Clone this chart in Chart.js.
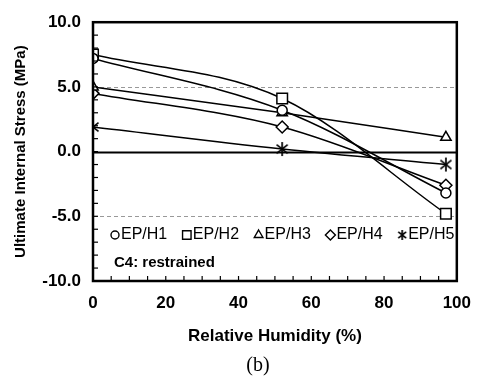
<!DOCTYPE html>
<html>
<head>
<meta charset="utf-8">
<script src="https://cdn.jsdelivr.net/npm/chart.js@4.4.0/dist/chart.umd.min.js"></script>
<style>
    html, body { margin: 0; padding: 0; background: #fff; }
</style>
</head>
<body>
<canvas id="GraficoHumedad" width="483" height="378"></canvas>
<script>
// datos
const humedad = [0, 52, 97];
const epH1 = [7.2, 3.2, -3.2];
const epH2 = [7.5, 4.1, -4.8];
const epH3 = [5.0, 3.0, 1.1];
const epH4 = [4.5, 1.9, -2.6];
const epH5 = [1.9, 0.2, -1.0];
const etiquetas = ["EP/H1", "EP/H2", "EP/H3", "EP/H4", "EP/H5"];
const ticksX = [0, 20, 40, 60, 80, 100];
const ticksY = [-10, -5, 0, 5, 10];

// asterisco de 6 brazos para EP/H5
function CrearAsterisco(r) {
    let c = document.createElement("canvas");
    c.width = r * 2 + 2;
    c.height = r * 2 + 2;
    let g = c.getContext("2d");
    g.strokeStyle = "#000";
    g.lineWidth = 1.7;
    let cx = c.width / 2, cy = c.height / 2;
    [90, 38, 142].forEach(function (ang) {
        let a = ang * Math.PI / 180;
        g.beginPath();
        g.moveTo(cx - r * Math.cos(a), cy - r * Math.sin(a));
        g.lineTo(cx + r * Math.cos(a), cy + r * Math.sin(a));
        g.stroke();
    });
    return c;
}

const estilos = ["circle", "rect", "triangle", "rectRot", CrearAsterisco(7)];
const radios = [5, 7.5, 6, 6, 7];
const estilosLeyenda = ["circle", "rect", "triangle", "rectRot", CrearAsterisco(5)];
const radiosLeyenda = [4, 6, 5, 5, 5];

function Serie(valores) {
    return valores.map(function (v, i) { return { x: humedad[i], y: v }; });
}

const series = [epH1, epH2, epH3, epH4, epH5];
const datasets = series.map(function (valores, i) {
    return {
        label: etiquetas[i],
        data: Serie(valores),
        borderColor: "#000",
        borderWidth: 1.5,
        cubicInterpolationMode: "monotone",
        pointStyle: estilos[i],
        pointRadius: radios[i],
        pointBackgroundColor: "#fff",
        pointBorderColor: "#000",
        pointBorderWidth: 1.5,
        fill: false
    };
});

// lineas de referencia, marco y ticks menores hacia adentro
const pluginMarco = {
    id: "marco",
    beforeDatasetsDraw: function (chart) {
        const ctx = chart.ctx;
        const a = chart.chartArea;
        const y = chart.scales.y;
        ctx.save();
        ticksY.forEach(function (v) {
            if (v === -10 || v === 10) return;
            let py = Math.round(y.getPixelForValue(v)) + 0.5;
            ctx.beginPath();
            if (v === 0) {
                ctx.setLineDash([]);
                ctx.strokeStyle = "#000";
                ctx.lineWidth = 2;
            } else {
                ctx.setLineDash([4, 3]);
                ctx.strokeStyle = "#999";
                ctx.lineWidth = 1;
            }
            ctx.moveTo(a.left, py);
            ctx.lineTo(a.right, py);
            ctx.stroke();
        });
        ctx.restore();
    },
    afterDraw: function (chart) {
        const ctx = chart.ctx;
        const a = chart.chartArea;
        const x = chart.scales.x;
        const y = chart.scales.y;
        ctx.save();
        ctx.strokeStyle = "#000";
        ctx.lineWidth = 1.2;
        for (let v = -10; v <= 10; v++) {
            let py = y.getPixelForValue(v);
            ctx.beginPath();
            ctx.moveTo(a.left, py);
            ctx.lineTo(a.left + 5, py);
            ctx.stroke();
        }
        for (let v = 0; v <= 100; v += 5) {
            let px = x.getPixelForValue(v);
            ctx.beginPath();
            ctx.moveTo(px, a.bottom);
            ctx.lineTo(px, a.bottom - 5);
            ctx.stroke();
        }
        ctx.lineWidth = 2.5;
        ctx.strokeRect(a.left, a.top, a.right - a.left, a.bottom - a.top);

        // leyenda dentro del area
        ctx.fillStyle = "#000";
        ctx.textBaseline = "middle";
        ctx.font = "16px 'Liberation Sans', Arial, sans-serif";
        let ly = a.bottom - 46;
        etiquetas.forEach(function (txt, i) {
            let mx = a.left + 22 + i * 71.8;
            ctx.save();
            ctx.fillStyle = "#fff";
            ctx.strokeStyle = "#000";
            ctx.lineWidth = 1.4;
            Chart.helpers.drawPoint(ctx, {
                pointStyle: estilosLeyenda[i], radius: radiosLeyenda[i], rotation: 0, borderWidth: 1.4
            }, mx, ly);
            ctx.restore();
            ctx.fillText(txt, mx + 6, ly);
        });
        ctx.font = "bold 15px 'Liberation Sans', Arial, sans-serif";
        ctx.fillText("C4: restrained", a.left + 21, a.bottom - 18);

        // rotulo (b)
        ctx.font = "20px 'Liberation Serif', 'Times New Roman', serif";
        ctx.textAlign = "center";
        ctx.fillText("(b)", 258, 366);
        ctx.restore();
    }
};

const fuenteEje = { family: "'Liberation Sans', Arial, sans-serif", size: 17, weight: "bold" };
const fuenteTituloY = { family: "'Liberation Sans', Arial, sans-serif", size: 15, weight: "bold" };

const ctx = document.getElementById("GraficoHumedad");
const graficoHumedad = new Chart(ctx, {
    type: "line",
    data: { datasets: datasets },
    options: {
        responsive: false,
        animation: false,
        devicePixelRatio: 1,
        layout: { padding: { top: 15, right: 18, bottom: 27, left: 0 } },
        plugins: {
            legend: { display: false },
            tooltip: { enabled: false }
        },
        scales: {
            x: {
                type: "linear",
                min: 0,
                max: 100,
                afterFit: function (s) { s.height = 70; },
                afterBuildTicks: function (s) { s.ticks = ticksX.map(function (v) { return { value: v }; }); },
                grid: { display: false, drawTicks: false },
                border: { display: false },
                ticks: { color: "#000", font: fuenteEje, padding: 12, maxRotation: 0 },
                title: { display: true, text: "Relative Humidity (%)", color: "#000", font: fuenteEje, padding: { top: 0, bottom: 4 } }
            },
            y: {
                min: -10,
                max: 10,
                afterFit: function (s) { s.width = 93; },
                afterBuildTicks: function (s) { s.ticks = ticksY.map(function (v) { return { value: v }; }); },
                grid: { display: false, drawTicks: false },
                border: { display: false },
                ticks: {
                    color: "#000", font: fuenteEje, padding: 12,
                    callback: function (v) { return Number(v).toFixed(1); }
                },
                title: { display: true, text: "Ultimate Internal Stress (MPa)", color: "#000", font: fuenteTituloY, padding: { top: 12, bottom: 0 } }
            }
        }
    },
    plugins: [pluginMarco]
});
</script>
</body>
</html>
